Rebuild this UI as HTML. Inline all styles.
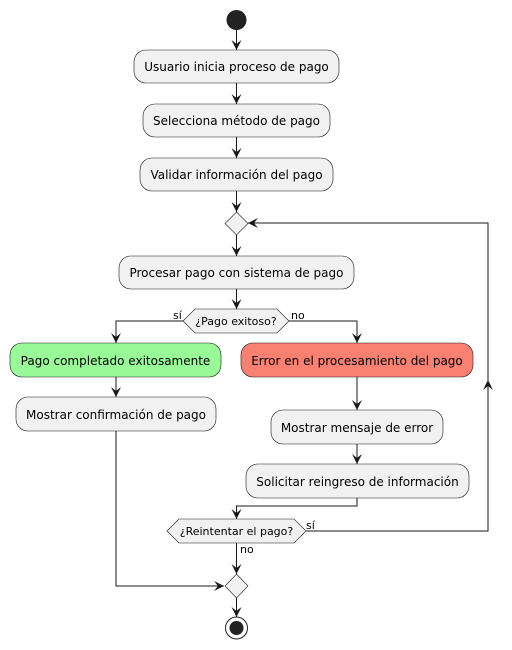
<!DOCTYPE html>
<html><head><style>body{margin:0;background:#fff}svg{display:block}text{font-family:"DejaVu Sans","Liberation Sans",sans-serif;font-size:12px;fill:#000}</style></head>
<body>
<svg width="512" height="650" viewBox="0 0 512 650">
<defs><marker id="a" markerWidth="12" markerHeight="12" refX="10" refY="5" orient="auto" markerUnits="userSpaceOnUse"><path d="M0,0 L10,5 L0,10 L4,5 Z" fill="#181818"/></marker></defs>
<g stroke="#181818" stroke-width="1" fill="none">
<line x1="236.5" y1="30" x2="236.5" y2="50" marker-end="url(#a)"/>
<line x1="236.5" y1="83" x2="236.5" y2="104" marker-end="url(#a)"/>
<line x1="236.5" y1="137" x2="236.5" y2="158" marker-end="url(#a)"/>
<line x1="236.5" y1="191" x2="236.5" y2="212" marker-end="url(#a)"/>
<line x1="236.5" y1="235" x2="236.5" y2="256" marker-end="url(#a)"/>
<line x1="236.5" y1="289" x2="236.5" y2="309" marker-end="url(#a)"/>
<polyline points="183,321 116,321 116,343" marker-end="url(#a)"/>
<polyline points="289,321 357,321 357,343" marker-end="url(#a)"/>
<line x1="116" y1="377" x2="116" y2="397" marker-end="url(#a)"/>
<polyline points="116,431 116,586 224,586" marker-end="url(#a)"/>
<line x1="357" y1="377" x2="357" y2="410" marker-end="url(#a)"/>
<line x1="357" y1="444" x2="357" y2="464" marker-end="url(#a)"/>
<polyline points="357,498 357,506 236.5,506 236.5,519" marker-end="url(#a)"/>
<polyline points="306,531 488,531 488,223 248,223" marker-end="url(#a)"/>
<line x1="488" y1="400" x2="488" y2="380" marker-end="url(#a)"/>
<line x1="236.5" y1="543" x2="236.5" y2="574" marker-end="url(#a)"/>
<line x1="236.5" y1="598" x2="236.5" y2="617" marker-end="url(#a)"/>
</g>
<circle cx="236.5" cy="20" r="10" fill="#222"/>
<g stroke="#181818" stroke-width="0.6" fill="#f1f1f1">
<rect x="134" y="50" width="205" height="33" rx="12"/>
<rect x="143" y="104" width="187" height="33" rx="12"/>
<rect x="140" y="158" width="193" height="33" rx="12"/>
<polygon points="236.5,212 248,223.5 236.5,235 225,223.5"/>
<rect x="119" y="256" width="235" height="33" rx="12"/>
<polygon points="183,321 195,309 277,309 289,321 277,333 195,333"/>
<rect x="10" y="343" width="211" height="34" rx="12" fill="#98fb98"/>
<rect x="241" y="343" width="232" height="34" rx="12" fill="#fa8072"/>
<rect x="16" y="397" width="200" height="34" rx="12"/>
<rect x="271" y="410" width="172" height="34" rx="12"/>
<rect x="246" y="464" width="223" height="34" rx="12"/>
<polygon points="167,531 179,519 294,519 306,531 294,543 179,543"/>
<polygon points="236.5,574 248,586 236.5,598 225,586"/>
</g>
<circle cx="236.5" cy="628" r="11" fill="none" stroke="#222" stroke-width="1"/>
<circle cx="236.5" cy="628" r="7" fill="#222"/>
<g text-anchor="middle">
<text x="236.5" y="71">Usuario inicia proceso de pago</text>
<text x="236.5" y="125">Selecciona método de pago</text>
<text x="236.5" y="179">Validar información del pago</text>
<text x="236.5" y="277">Procesar pago con sistema de pago</text>
<text x="236" y="325" style="font-size:11px">¿Pago exitoso?</text>
<text x="115.5" y="365">Pago completado exitosamente</text>
<text x="357" y="365">Error en el procesamiento del pago</text>
<text x="116" y="419">Mostrar confirmación de pago</text>
<text x="357" y="432">Mostrar mensaje de error</text>
<text x="357.5" y="486">Solicitar reingreso de información</text>
<text x="236.5" y="535" style="font-size:11px">¿Reintentar el pago?</text>
</g>
<text x="173" y="319" style="font-size:11px">sí</text>
<text x="291" y="319" style="font-size:11px">no</text>
<text x="306" y="529" style="font-size:11px">sí</text>
<text x="240" y="553" style="font-size:11px">no</text>
</svg>
</body></html>
